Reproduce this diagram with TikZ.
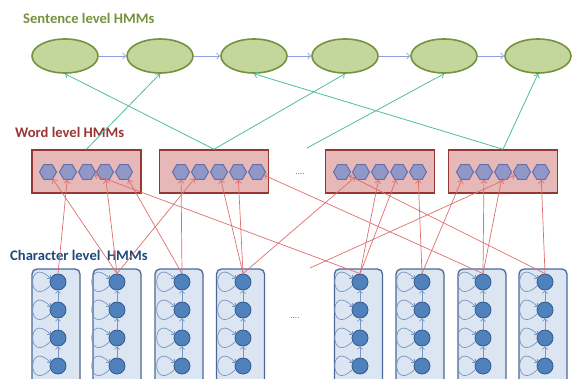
\documentclass[tikz,border=0pt]{standalone}
\usepackage{fontspec}
\setmainfont{Carlito}
\usetikzlibrary{shapes.geometric,arrows.meta}
\definecolor{sentline}{RGB}{118,146,60}
\definecolor{sentfill}{RGB}{195,214,155}
\definecolor{wline}{RGB}{150,55,52}
\definecolor{wfill}{RGB}{230,184,183}
\definecolor{hexline}{RGB}{100,112,170}
\definecolor{hexfill}{RGB}{145,152,200}
\definecolor{cline}{RGB}{75,105,150}
\definecolor{cfill}{RGB}{220,230,242}
\definecolor{stline}{RGB}{50,90,140}
\definecolor{stfill}{RGB}{79,129,189}
\definecolor{loopc}{RGB}{120,150,195}
\definecolor{sarrc}{RGB}{140,160,225}
\definecolor{garrc}{RGB}{80,190,150}
\definecolor{rarrc}{RGB}{222,110,110}
\definecolor{clabel}{RGB}{31,73,125}
\definecolor{dotc}{RGB}{110,110,110}
\begin{document}
\begin{tikzpicture}[x=1pt,y=-1pt,
  sent/.style={ellipse, draw=sentline, fill=sentfill, line width=1.6pt, minimum width=66pt, minimum height=34pt, inner sep=0pt},
  wbox/.style={rectangle, draw=wline, fill=wfill, line width=1.5pt, minimum width=109pt, minimum height=43pt, inner sep=0pt},
  hexn/.style={regular polygon, regular polygon sides=6, draw=hexline, fill=hexfill, line width=1pt, minimum size=17pt, inner sep=0pt},
  cbox/.style={rectangle, rounded corners=5pt, draw=cline, fill=cfill, line width=1.3pt, minimum width=48pt, minimum height=130pt, inner sep=0pt},
  chstate/.style={circle, draw=stline, fill=stfill, line width=0.8pt, minimum size=16pt, inner sep=0pt},
  sarr/.style={draw=sarrc, line width=0.7pt, -{Straight Barb[length=3pt,width=6pt]}},
  garr/.style={draw=garrc, line width=0.8pt, -{Straight Barb[length=3pt,width=6pt]}},
  rarr/.style={draw=rarrc, line width=0.7pt, -{Straight Barb[length=3pt,width=6pt]}},
  charr/.style={draw=loopc, line width=0.7pt, -{Straight Barb[length=2.5pt,width=5pt]}},
  loopar/.style={draw=loopc, line width=0.7pt, -{Straight Barb[length=2.5pt,width=5pt]}},
  lbl/.style={anchor=base west, inner sep=0pt, font=\bfseries\fontsize{14.6}{16}\selectfont},
  dots/.style={text=dotc, font=\fontsize{9}{10}\selectfont}
]
\useasboundingbox (0,0) rectangle (572,379);

% labels
\node[lbl, text=sentline] (tsent) at (23,24) {Sentence level HMMs};
\node[lbl, text=wline] (tword) at (15,138) {Word level HMMs};
\node[lbl, text=clabel] (tchar) at (10,260) {Character level\ \ HMMs};
\node[dots] (dw) at (300,174) {....};
\node[dots] (dc) at (295,318) {....};

% sentence level
\foreach \x [count=\i] in {65,160,254,345,444,538}
  \node[sent] (s\i) at (\x,56) {};
\foreach \i [evaluate=\i as \j using int(\i+1)] in {1,...,5}
  \draw[sarr] (s\i) -- (s\j);

% word level boxes
\node[wbox] (w1) at (86.5,171.5) {};
\node[wbox] (w2) at (214,171.5) {};
\node[wbox] (w3) at (380,171.5) {};
\node[wbox] (w4) at (503,171.5) {};
\foreach \x [count=\m] in {48,68,87,105,124} \node[hexn] (h1\m) at (\x,172) {};
\foreach \x [count=\m] in {181,200,219,238,257} \node[hexn] (h2\m) at (\x,172) {};
\foreach \x [count=\m] in {342,361,380,399,418} \node[hexn] (h3\m) at (\x,172) {};
\foreach \x [count=\m] in {465,484,503,522,541} \node[hexn] (h4\m) at (\x,172) {};

% character level
\foreach \bx/\cx [count=\i] in {56/58,117/117,179/182,240.5/243,358.5/360,420/422,482/483,543/545}{
  \node[cbox] (cb\i) at (\bx,334) {};
  \foreach \y [count=\j] in {282,310,338,366}
    \node[chstate] (c\i\j) at (\cx,\y) {};
  \foreach \j [evaluate=\j as \k using int(\j+1)] in {1,2,3}
    \draw[charr] (c\i\k.north) -- (c\i\j.south);
  \foreach \j in {1,2,3,4}
    \draw[loopar] (c\i\j.205) to[out=225,in=135,looseness=12] (c\i\j.155);
}

% green connectors word -> sentence
\coordinate (gfree) at (307,148);
\draw[garr] (w1.north) -- (s2.south);
\draw[garr] (w2.north) -- (s1.south);
\draw[garr] (w2.north) -- (s4.south);
\draw[garr] (w4.north) -- (s3.south);
\draw[garr] (gfree) -- (s5.south);
\draw[garr] (w4.north) -- (s6.south);

% red connectors char -> word
\coordinate (rfree) at (310,268);
\foreach \a/\b in {1/12, 2/11, 2/14, 2/22, 3/15, 3/21, 4/23, 4/24, 4/32,
                   5/13, 5/33, 5/34, 6/35, 6/41, 7/25, 7/42, 7/43, 8/31, 8/45}
  \draw[rarr] (c\a1.north) -- (h\b);
\draw[rarr] (rfree) -- (h44);
\end{tikzpicture}
\end{document}
